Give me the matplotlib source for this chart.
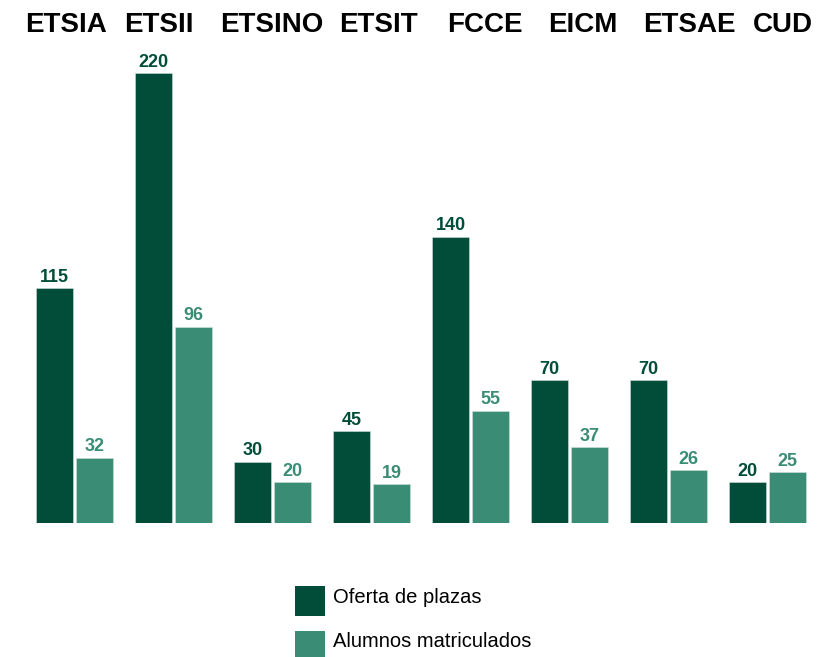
import matplotlib
matplotlib.use("Agg")
import matplotlib.pyplot as plt
import numpy as np
from matplotlib.patches import Rectangle

categories = ["ETSIA", "ETSII", "ETSINO", "ETSIT", "FCCE", "EICM", "ETSAE", "CUD"]
oferta = [115, 220, 30, 45, 140, 70, 70, 20]
alumnos = [32, 96, 20, 19, 55, 37, 26, 25]
series_names = ["Oferta de plazas", "Alumnos matriculados"]

dark = "#014d3a"
light = "#3a8c75"

plt.rcParams["font.family"] = ["Liberation Sans", "DejaVu Sans"]

W, H = 821, 657
fig = plt.figure(figsize=(W / 100, H / 100), dpi=100)
bottom_px = 523
ymax = 240
height_px = ymax * 450 / 220
ax = fig.add_axes([0, (H - bottom_px) / H, 1, height_px / H])
ax.set_xlim((0 - 74.5) / 99, (W - 74.5) / 99)
ax.set_ylim(0, ymax)
ax.axis("off")

x = np.arange(len(categories))
bw = 37 / 99
off = 20 / 99
b1 = ax.bar(x - off, oferta, bw, color=dark, edgecolor="#cfe0da", linewidth=0.4)
b2 = ax.bar(x + off, alumnos, bw, color=light, edgecolor="#cfe0da", linewidth=0.4)

for bars, vals, col in [(b1, oferta, dark), (b2, alumnos, light)]:
    for r, v in zip(bars, vals):
        ax.annotate(f"{v}", (r.get_x() + r.get_width() / 2, v), xytext=(0, 4.5),
                    textcoords="offset points", ha="center", va="baseline",
                    fontsize=13, fontweight="bold", color=col)

# category headers along the top
header_px = [66, 159, 271.5, 378.5, 484.5, 582.5, 689, 783]
for name, px in zip(categories, header_px):
    fig.text(px / W, 1 - 24.5 / H, name, ha="center", va="center",
             fontsize=20, fontweight="bold", color="black")

# legend drawn manually
leg_x = 295
leg_rows = [(586, 603), (631, 647)]  # (square top, text baseline) in px
for (top, base), name, col in zip(leg_rows, series_names, [dark, light]):
    fig.patches.append(Rectangle((leg_x / W, 1 - (top + 30) / H), 30 / W, 30 / H,
                                 transform=fig.transFigure, facecolor=col,
                                 edgecolor="none"))
    fig.text(333 / W, 1 - base / H, name, ha="left", va="baseline",
             fontsize=14.5, color="black")

fig.savefig("out.png", dpi=100)
